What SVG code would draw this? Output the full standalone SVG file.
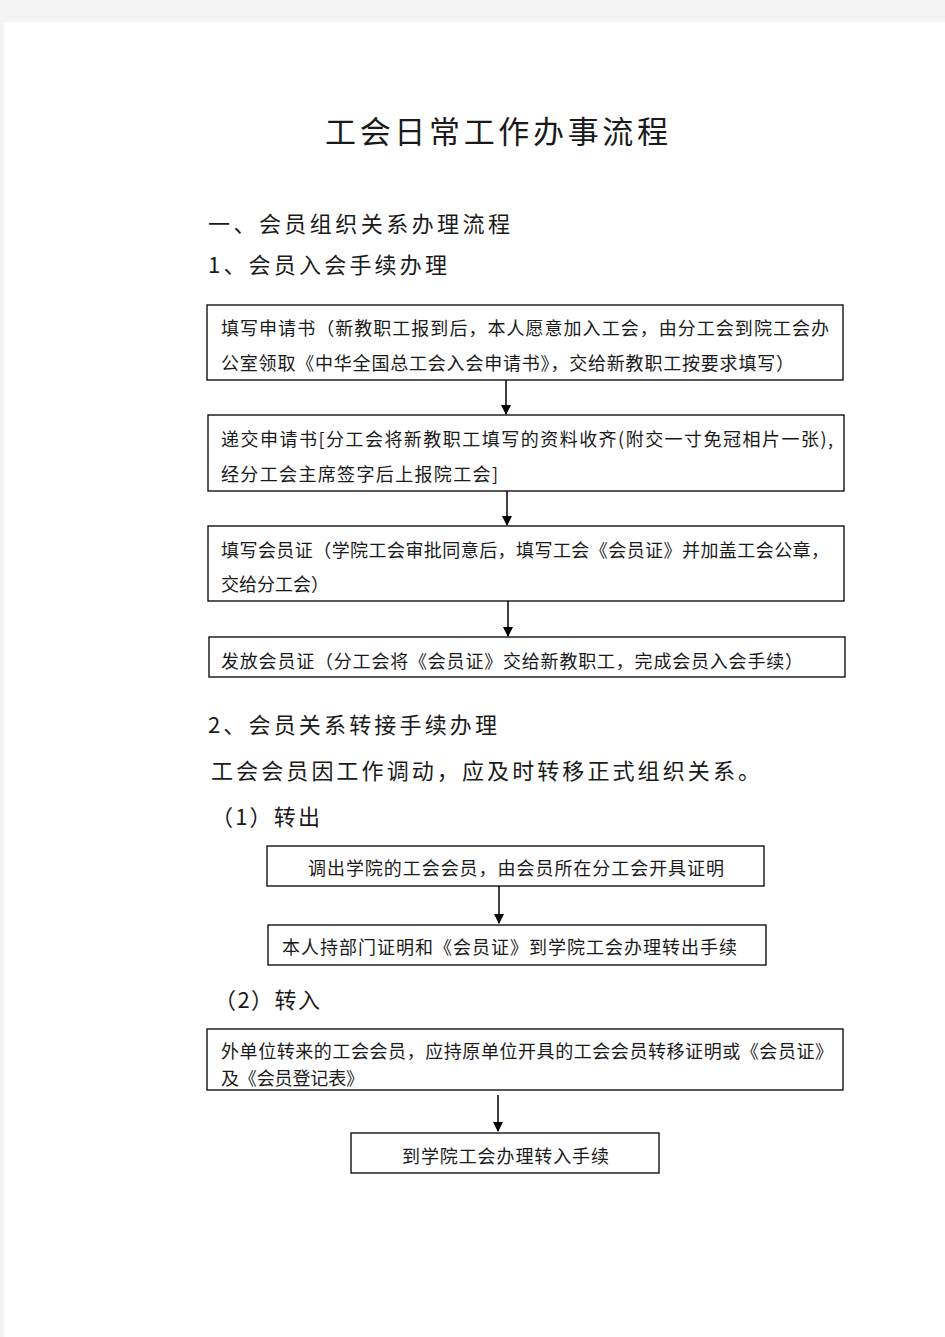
<svg xmlns="http://www.w3.org/2000/svg" width="945" height="1337" viewBox="0 0 945 1337">
<defs>
<style>
.t{font-family:"Noto Sans CJK SC","Liberation Serif",serif;fill:#1a1a1a}
.h{font-size:22px}
.b{font-size:18px}
.box{fill:#fff;stroke:#000;stroke-width:1.3}
.c{stroke:#000;stroke-width:1.5;fill:none}
</style>
<marker id="ah" markerWidth="10" markerHeight="10" refX="9" refY="5" orient="auto" markerUnits="userSpaceOnUse">
<path d="M0,0 L10,5 L0,10 Z" fill="#000"/>
</marker>
</defs>
<rect x="0" y="0" width="945" height="1337" fill="#f4f4f4"/>
<rect x="4" y="22" width="941" height="1315" fill="#fff"/>
<text class="t" x="325" y="143" font-size="31" textLength="343" lengthAdjust="spacing">工会日常工作办事流程</text>
<text class="t h" x="208" y="232" textLength="302" lengthAdjust="spacing">一、会员组织关系办理流程</text>
<text class="t h" x="208" y="273" textLength="239" lengthAdjust="spacing">1、会员入会手续办理</text>
<g id="n1"><rect class="box" x="207" y="305" width="636" height="75"/>
<text class="t b" x="221" y="335" textLength="608" lengthAdjust="spacing">填写申请书（新教职工报到后，本人愿意加入工会，由分工会到院工会办</text>
<text class="t b" x="221" y="370" textLength="573" lengthAdjust="spacing">公室领取《中华全国总工会入会申请书》，交给新教职工按要求填写）</text></g>
<g id="n2"><rect class="box" x="208" y="415" width="636" height="76"/>
<text class="t b" x="221" y="446" textLength="612" lengthAdjust="spacing">递交申请书[分工会将新教职工填写的资料收齐(附交一寸免冠相片一张),</text>
<text class="t b" x="221" y="481" textLength="277" lengthAdjust="spacing">经分工会主席签字后上报院工会]</text></g>
<g id="n3"><rect class="box" x="208" y="526" width="636" height="75"/>
<text class="t b" x="221" y="557" textLength="608" lengthAdjust="spacing">填写会员证（学院工会审批同意后，填写工会《会员证》并加盖工会公章，</text>
<text class="t b" x="221" y="591" textLength="108" lengthAdjust="spacing">交给分工会）</text></g>
<g id="n4"><rect class="box" x="209" y="637" width="636" height="40"/>
<text class="t b" x="221" y="668" textLength="582" lengthAdjust="spacing">发放会员证（分工会将《会员证》交给新教职工，完成会员入会手续）</text></g>
<text class="t h" x="208" y="733" textLength="289" lengthAdjust="spacing">2、会员关系转接手续办理</text>
<text class="t h" x="211" y="779" textLength="549" lengthAdjust="spacing">工会会员因工作调动，应及时转移正式组织关系。</text>
<text class="t h" x="211" y="825" textLength="109" lengthAdjust="spacing">（1）转出</text>
<g id="n5"><rect class="box" x="267" y="846" width="497" height="40"/>
<text class="t b" x="308" y="875" textLength="416" lengthAdjust="spacing">调出学院的工会会员，由会员所在分工会开具证明</text></g>
<g id="n6"><rect class="box" x="268" y="925" width="498" height="40"/>
<text class="t b" x="282" y="954" textLength="455" lengthAdjust="spacing">本人持部门证明和《会员证》到学院工会办理转出手续</text></g>
<text class="t h" x="214" y="1008" textLength="106" lengthAdjust="spacing">（2）转入</text>
<g id="n7"><rect class="box" x="207" y="1029" width="636" height="61"/>
<text class="t b" x="221" y="1058" textLength="612" lengthAdjust="spacing">外单位转来的工会会员，应持原单位开具的工会会员转移证明或《会员证》</text>
<text class="t b" x="221" y="1085" textLength="143" lengthAdjust="spacing">及《会员登记表》</text></g>
<g id="n8"><rect class="box" x="351" y="1133" width="308" height="40"/>
<text class="t b" x="402" y="1163" textLength="207" lengthAdjust="spacing">到学院工会办理转入手续</text></g>
<g id="connectors">
<line class="c" x1="506" y1="380" x2="506" y2="414" marker-end="url(#ah)"/>
<line class="c" x1="507" y1="491" x2="507" y2="525" marker-end="url(#ah)"/>
<line class="c" x1="508" y1="601" x2="508" y2="636" marker-end="url(#ah)"/>
<line class="c" x1="499" y1="886" x2="499" y2="923" marker-end="url(#ah)"/>
<line class="c" x1="498" y1="1095" x2="498" y2="1131" marker-end="url(#ah)"/>
</g>
</svg>
